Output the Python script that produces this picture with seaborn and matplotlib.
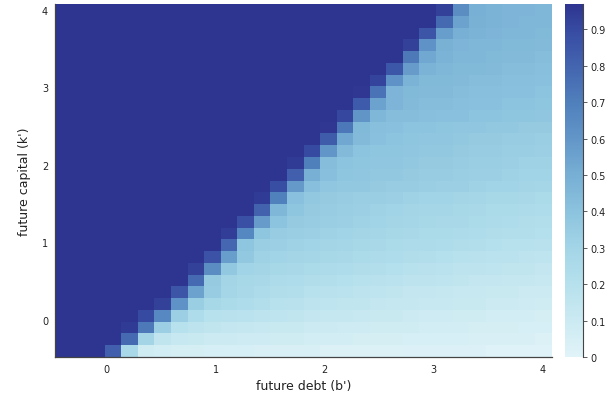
import numpy as np
import pandas as pd
import matplotlib
matplotlib.use("Agg")
import matplotlib.pyplot as plt
import seaborn as sns
from matplotlib.colors import LinearSegmentedColormap

# grid of future debt (columns) and future capital (rows)
debt = [-0.400, -0.248, -0.097, 0.055, 0.207, 0.359, 0.510, 0.662, 0.814, 0.966,
        1.117, 1.269, 1.421, 1.572, 1.724, 1.876, 2.028, 2.179, 2.331, 2.483,
        2.634, 2.786, 2.938, 3.090, 3.241, 3.393, 3.545, 3.697, 3.848, 4.000]
capital = [-0.400, -0.248, -0.097, 0.055, 0.207, 0.359, 0.510, 0.662, 0.814, 0.966,
           1.117, 1.269, 1.421, 1.572, 1.724, 1.876, 2.028, 2.179, 2.331, 2.483,
           2.634, 2.786, 2.938, 3.090, 3.241, 3.393, 3.545, 3.697, 3.848, 4.000]

# values (in percent), one row per capital level (lowest capital first)
price_pct = [
    [97,97,97,82,27,8,7,6,6,5,5,5,4,4,4,4,3,3,3,3,3,2,2,2,2,2,1,1,1,1],
    [97,97,97,97,78,30,15,12,11,10,10,9,9,8,8,7,7,7,6,6,6,5,5,5,5,4,4,4,4,3],
    [97,97,97,97,95,72,33,20,17,15,14,13,12,11,11,10,10,9,9,8,8,8,7,7,7,6,6,6,5,5],
    [97,97,97,97,97,90,66,33,24,20,19,18,17,16,15,14,13,13,12,11,11,10,9,9,8,8,7,7,7,6],
    [97,97,97,97,97,97,93,62,34,28,26,24,22,20,19,17,16,15,15,14,13,13,12,12,11,11,10,10,9,8],
    [97,97,97,97,97,97,97,86,55,35,29,27,25,23,22,20,19,18,17,16,15,14,14,13,12,12,11,11,10,10],
    [97,97,97,97,97,97,97,97,78,36,30,28,27,25,24,23,22,21,20,19,18,17,17,16,15,14,14,13,13,12],
    [97,97,97,97,97,97,97,97,93,64,37,31,30,28,27,26,25,24,23,22,21,20,19,18,17,17,16,15,15,14],
    [97,97,97,97,97,97,97,97,97,87,57,37,32,31,30,29,28,27,26,25,24,23,22,21,20,19,18,18,17,16],
    [97,97,97,97,97,97,97,97,97,97,79,39,34,33,32,31,30,29,28,27,26,25,25,24,23,22,21,20,20,19],
    [97,97,97,97,97,97,97,97,97,97,94,67,39,35,34,33,32,31,30,29,28,27,26,26,25,24,23,22,22,21],
    [97,97,97,97,97,97,97,97,97,97,97,88,58,40,36,35,34,33,32,31,30,29,28,27,27,26,25,24,23,22],
    [97,97,97,97,97,97,97,97,97,97,97,97,81,46,39,36,35,34,33,32,31,30,29,29,28,27,26,26,25,24],
    [97,97,97,97,97,97,97,97,97,97,97,97,95,69,41,37,36,35,34,34,33,32,31,31,30,29,28,28,27,26],
    [97,97,97,97,97,97,97,97,97,97,97,97,97,89,59,42,38,37,37,36,35,35,34,33,33,32,31,31,30,29],
    [97,97,97,97,97,97,97,97,97,97,97,97,97,97,82,50,42,39,38,37,37,36,35,35,34,33,33,32,31,31],
    [97,97,97,97,97,97,97,97,97,97,97,97,97,97,95,70,43,40,39,38,38,37,36,36,35,34,34,33,32,32],
    [97,97,97,97,97,97,97,97,97,97,97,97,97,97,97,90,60,44,40,39,39,38,37,37,36,35,35,34,34,33],
    [97,97,97,97,97,97,97,97,97,97,97,97,97,97,97,97,83,53,44,41,40,39,38,38,37,36,36,35,35,34],
    [97,97,97,97,97,97,97,97,97,97,97,97,97,97,97,97,96,73,45,42,41,40,40,39,38,38,37,37,36,36],
    [97,97,97,97,97,97,97,97,97,97,97,97,97,97,97,97,97,91,61,46,43,43,42,41,41,40,40,39,39,38],
    [97,97,97,97,97,97,97,97,97,97,97,97,97,97,97,97,97,97,84,55,47,44,43,43,42,41,41,40,40,39],
    [97,97,97,97,97,97,97,97,97,97,97,97,97,97,97,97,97,97,96,75,47,45,44,44,43,42,42,41,41,40],
    [97,97,97,97,97,97,97,97,97,97,97,97,97,97,97,97,97,97,97,92,62,48,45,45,44,43,43,42,42,41],
    [97,97,97,97,97,97,97,97,97,97,97,97,97,97,97,97,97,97,97,97,85,58,48,46,45,45,44,43,43,42],
    [97,97,97,97,97,97,97,97,97,97,97,97,97,97,97,97,97,97,97,97,97,72,53,48,46,46,45,44,44,43],
    [97,97,97,97,97,97,97,97,97,97,97,97,97,97,97,97,97,97,97,97,97,93,62,49,47,46,46,45,45,44],
    [97,97,97,97,97,97,97,97,97,97,97,97,97,97,97,97,97,97,97,97,97,97,86,57,50,48,47,46,46,45],
    [97,97,97,97,97,97,97,97,97,97,97,97,97,97,97,97,97,97,97,97,97,97,97,78,55,49,48,47,46,46],
    [97,97,97,97,97,97,97,97,97,97,97,97,97,97,97,97,97,97,97,97,97,97,97,93,64,50,48,47,47,46],
]

axis_ticks = [0, 1, 2, 3, 4]
cbar_ticks = [0, 0.1, 0.2, 0.3, 0.4, 0.5, 0.6, 0.7, 0.8, 0.9]
cbar_labels = ["0", "0.1", "0.2", "0.3", "0.4", "0.5", "0.6", "0.7", "0.8", "0.9"]
x_label = "future debt (b')"
y_label = "future capital (k')"

# colour gradient (light cyan -> dark indigo)
cmap = LinearSegmentedColormap.from_list(
    "blues_jl",
    [(0.00, "#e0f3f8"), (0.10, "#cceaf2"), (0.20, "#b7e1ed"), (0.31, "#a3d5e7"),
     (0.41, "#8cc3de"), (0.52, "#76aed4"), (0.62, "#6296c8"), (0.72, "#5080bc"),
     (0.82, "#4466b0"), (0.92, "#384da3"), (1.00, "#2e3590")])

values = np.array(price_pct, dtype=float) / 100.0
df = pd.DataFrame(values[::-1], index=capital[::-1], columns=debt)

sns.set_style("white")
plt.rcParams['font.family'] = ['DejaVu Sans']

fig = plt.figure(figsize=(6.08, 4.02), dpi=100)
ax = fig.add_axes([55 / 608, 44 / 402, 497 / 608, 353 / 402])
cax = fig.add_axes([565 / 608, 44 / 402, 18 / 608, 353 / 402])

sns.heatmap(df, ax=ax, cbar_ax=cax, cmap=cmap, vmin=0.0, vmax=0.97,
            xticklabels=False, yticklabels=False, linewidths=0)

step = debt[1] - debt[0]
xpos = [(v - debt[0]) / step + 0.5 for v in axis_ticks]
ypos = [(capital[-1] - v) / step + 0.5 for v in axis_ticks]
ax.set_xticks(xpos)
ax.set_xticklabels([str(t) for t in axis_ticks])
ax.set_yticks(ypos)
ax.set_yticklabels([str(t) for t in axis_ticks], rotation=0)
ax.tick_params(axis='both', direction='in', length=3, width=0.6, color='#333333',
               labelsize=7, labelcolor='#222222', pad=5)
ax.set_xlabel(x_label, fontsize=9, color='#222222', labelpad=4)
ax.set_ylabel(y_label, fontsize=9, color='#222222', labelpad=8)
for side in ['left', 'bottom']:
    ax.spines[side].set_visible(True)
    ax.spines[side].set_color('#444444')
    ax.spines[side].set_linewidth(0.9)
for side in ['top', 'right']:
    ax.spines[side].set_visible(False)

cb = ax.collections[0].colorbar
cb.outline.set_visible(False)
cax.spines['right'].set_visible(True)
cax.spines['right'].set_color('#444444')
cax.spines['right'].set_linewidth(0.8)
cb.set_ticks(cbar_ticks)
cb.set_ticklabels(cbar_labels)
cax.tick_params(axis='y', direction='out', length=3, width=0.6, color='#444444',
                labelsize=7, labelcolor='#222222', pad=2, right=True)

fig.savefig("out.png", dpi=100)
